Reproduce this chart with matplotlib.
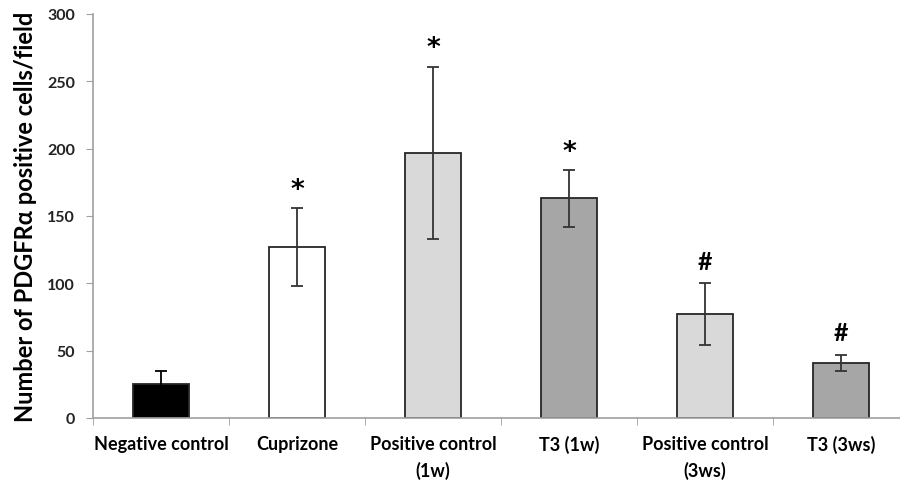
import matplotlib
matplotlib.use('Agg')
import matplotlib.pyplot as plt
import numpy as np

# data
groups = ['Negative control', 'Cuprizone', 'Positive control\n(1w)', 'T3 (1w)',
          'Positive control\n(3ws)', 'T3 (3ws)']
means = [25, 127, 197, 163, 77, 41]
errs = [10, 29, 64, 21, 23, 6]
marks = ['', '*', '*', '*', '#', '#']
colors = ['#000000', '#ffffff', '#d9d9d9', '#a6a6a6', '#d9d9d9', '#a6a6a6']

plt.rcParams['font.family'] = ['Lato', 'DejaVu Sans']

fig = plt.figure(figsize=(9, 4.81), dpi=100)
ax = fig.add_axes([93 / 900, 62 / 481, 816 / 900, 404 / 481])

x = np.arange(len(groups))
ax.bar(x, means, width=0.41, color=colors, edgecolor='#262626', linewidth=1.3, zorder=2)
for xi, m, e, c in zip(x, means, errs, colors):
    ec = '#000000' if c == '#000000' else '#333333'
    ax.errorbar(xi, m, yerr=e, fmt='none', ecolor=ec, elinewidth=1.3,
                capsize=4, capthick=1.3, zorder=3)

# significance marks above error bars
for xi, m, e, s in zip(x, means, errs, marks):
    if s == '*':
        ax.text(xi, m + e + 4, s, ha='center', va='bottom', fontsize=19,
                fontweight='bold', family='DejaVu Sans', color='black')
    elif s:
        ax.text(xi, m + e + 8, s, ha='center', va='bottom', fontsize=18,
                fontweight='bold', color='black')

ax.set_xlim(-0.5, 5.5)
ax.set_ylim(0, 300)
ax.set_yticks(range(0, 301, 50))
ax.set_xticks(x)
ax.set_xticklabels(groups, fontsize=13, fontweight='bold', linespacing=1.6,
                   va='top')
ax.set_xticks(np.arange(-0.5, 6, 1), minor=True)
ax.tick_params(axis='x', which='major', length=0, pad=12)
ax.tick_params(axis='x', which='minor', length=5, color='#a0a0a0', direction='out')
ax.tick_params(axis='y', length=5, color='#a0a0a0', labelsize=11.5, pad=8)
for lbl in ax.get_yticklabels():
    lbl.set_fontweight('bold')
    lbl.set_color('#222222')

for side in ['top', 'right']:
    ax.spines[side].set_visible(False)
for side in ['left', 'bottom']:
    ax.spines[side].set_color('#a0a0a0')
    ax.spines[side].set_linewidth(1.2)
ax.spines['bottom'].set_zorder(4)

ax.set_ylabel('Number of PDGFRα positive cells/field', fontsize=17,
              fontweight='bold', labelpad=7)

fig.savefig('out.png', dpi=100)
